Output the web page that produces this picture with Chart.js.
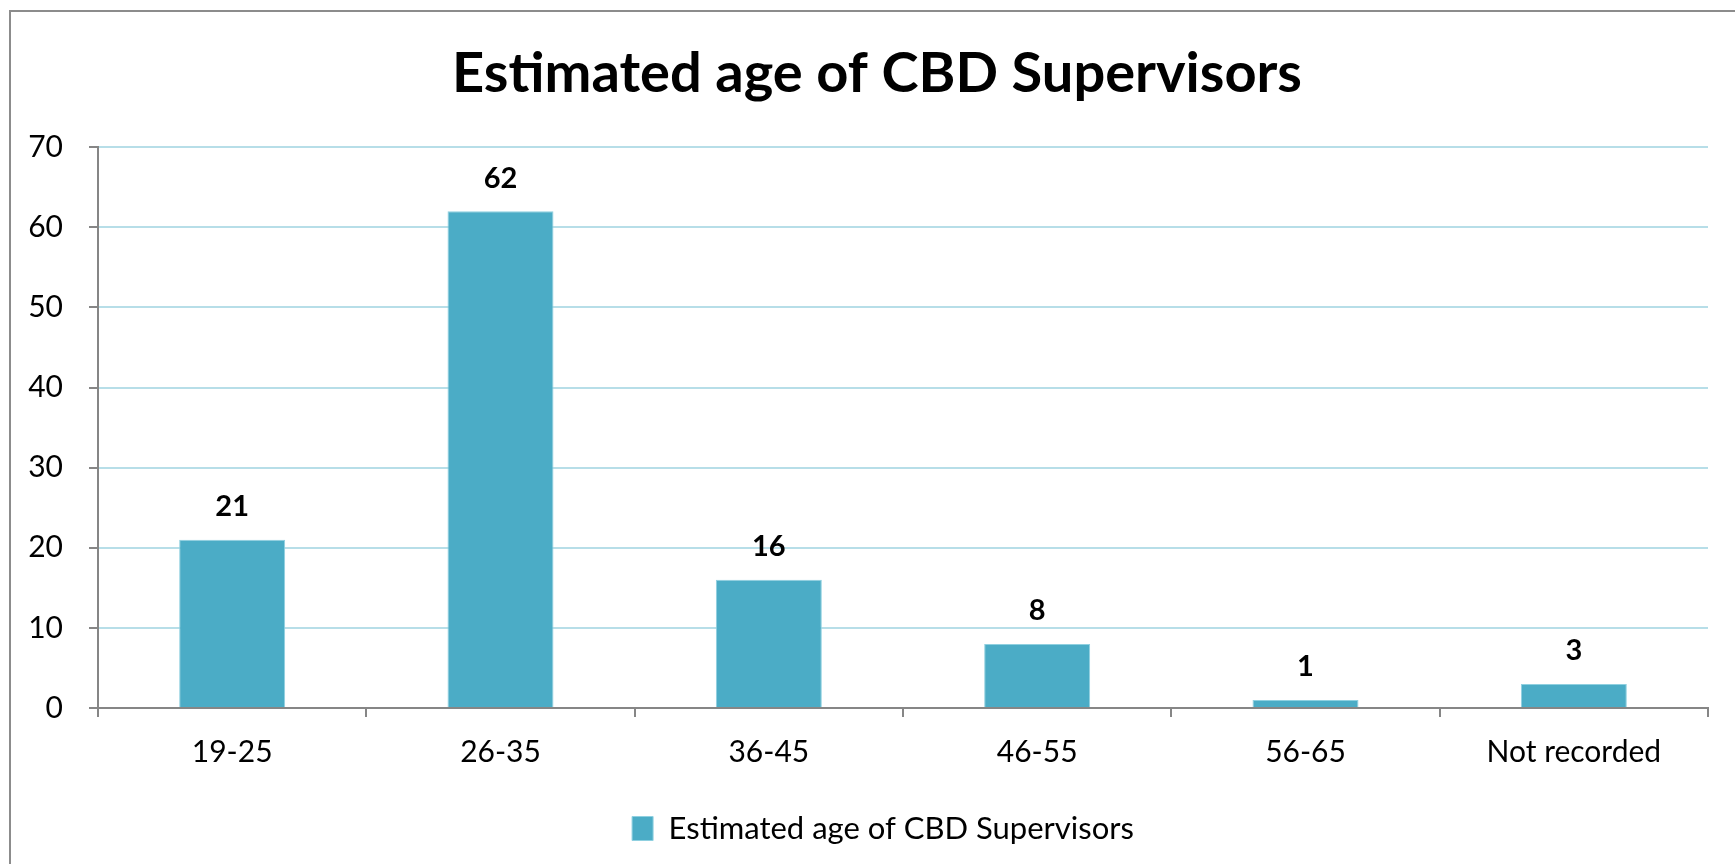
<!DOCTYPE html>
<html>
<head>
<meta charset="utf-8">
<title>Estimated age of CBD Supervisors</title>
<script src="https://cdn.jsdelivr.net/npm/chart.js@4"></script>
<style>
  html, body { margin: 0; padding: 0; background: #fff; }
  #ageChart { display: block; }
</style>
</head>
<body>
<canvas id="ageChart" width="1735" height="864"></canvas>
<script>
// Age bands and supervisor counts
const ageBands = ['19-25', '26-35', '36-45', '46-55', '56-65', 'Not recorded'];
const supervisorCounts = [21, 62, 16, 8, 1, 3];
const seriesName = 'Estimated age of CBD Supervisors';
const yMax = 70;
const yStep = 10;

const FONT = 'Lato, "Open Sans", sans-serif';
const barColor = '#4BACC6';
const axisGray = '#868686';

// Frame around the chart (left and top edges show)
const frame = {
  id: 'frame',
  beforeDraw(chart) {
    const ctx = chart.ctx;
    ctx.save();
    ctx.fillStyle = '#fff';
    ctx.fillRect(0, 0, chart.width, chart.height);
    ctx.strokeStyle = '#8c8c8c';
    ctx.lineWidth = 2;
    ctx.strokeRect(10, 11, chart.width + 20, chart.height + 20);
    ctx.restore();
  }
};

// Nudge title and legend sideways
const nudge = {
  id: 'nudge',
  afterLayout(chart) {
    if (chart.titleBlock) {
      chart.titleBlock.left += 23;
      chart.titleBlock.right += 23;
    }
    if (chart.legend) {
      chart.legend.left += 29;
      chart.legend.right += 29;
    }
  }
};

// Value labels above bars
const valueLabels = {
  id: 'valueLabels',
  afterDatasetsDraw(chart) {
    const ctx = chart.ctx;
    const meta = chart.getDatasetMeta(0);
    ctx.save();
    ctx.font = 'bold 29px ' + FONT;
    ctx.fillStyle = '#000';
    ctx.textAlign = 'center';
    ctx.textBaseline = 'middle';
    meta.data.forEach((bar, i) => {
      ctx.fillText(String(chart.data.datasets[0].data[i]), bar.x, bar.y - 33);
    });
    ctx.restore();
  }
};

const ageData = {
  labels: ageBands,
  datasets: [{
    label: seriesName,
    data: supervisorCounts,
    backgroundColor: barColor,
    borderColor: '#8fd0e0',
    borderWidth: 1,
    categoryPercentage: 1,
    barPercentage: 0.395
  }]
};

const ageConfig = {
  type: 'bar',
  data: ageData,
  options: {
    responsive: false,
    animation: false,
    layout: { padding: { left: 0, right: 27, top: 0, bottom: 10 } },
    plugins: {
      title: {
        display: true,
        text: seriesName,
        color: '#000',
        font: { family: FONT, size: 56, weight: 'bold' },
        padding: { top: 40, bottom: 40 }
      },
      legend: {
        position: 'bottom',
        labels: {
          boxWidth: 21,
          boxHeight: 24,
          padding: 10,
          color: '#000',
          font: { family: FONT, size: 31 }
        }
      },
      tooltip: { enabled: false }
    },
    scales: {
      x: {
        grid: { drawOnChartArea: false, color: axisGray, lineWidth: 2, tickLength: 9 },
        border: { color: axisGray, width: 2 },
        ticks: { color: '#000', padding: 17, font: { family: FONT, size: 30 } },
        afterFit(scale) { scale.height = 95; }
      },
      y: {
        min: 0,
        max: yMax,
        ticks: { stepSize: yStep, color: '#000', padding: 26, font: { family: FONT, size: 30 } },
        grid: { color: '#B7DEE8', tickColor: axisGray, lineWidth: 2, tickLength: 9 },
        border: { color: axisGray, width: 2 },
        afterFit(scale) { scale.width = 98; }
      }
    }
  },
  plugins: [frame, nudge, valueLabels]
};

var ageChart = new Chart(document.getElementById('ageChart'), ageConfig);
</script>
</body>
</html>
